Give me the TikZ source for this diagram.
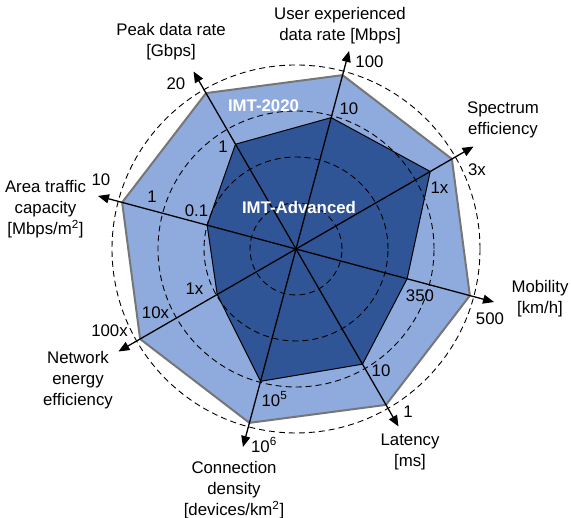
\documentclass[tikz,border=0pt]{standalone}
\usepackage{fontspec}
\setmainfont{Liberation Sans}
\usetikzlibrary{arrows.meta}
\definecolor{imtnew}{RGB}{143,170,220}
\definecolor{imtold}{RGB}{47,85,151}
\definecolor{rimgray}{RGB}{118,118,118}
\begin{document}
\begin{tikzpicture}[x=1pt,y=1pt,
  lbl/.style={font=\fontsize{16.8}{21}\selectfont, inner sep=0pt, align=center},
  tick/.style={font=\fontsize{16.8}{21}\selectfont, inner sep=0pt},
  series/.style={font=\fontsize{16.8}{21}\selectfont\bfseries, text=white, inner sep=0pt},
  axisline/.style={line width=1.3pt, -{Triangle[length=11pt,width=9pt]}},
  ring/.style={dash pattern=on 6pt off 4pt, line width=0.9pt},
]
\useasboundingbox (0,0) rectangle (571,518);
\coordinate (O) at (296,269);

% axis ends and IMT-2020 / IMT-Advanced vertices: name/angle/IMT-Advanced radius
\foreach \n/\a/\r in {ue/75/136, se/30/155, mo/-15/115, la/-60/133,
                      cd/-105/137, ne/-150/91, at/165/92, pk/120/121} {
  \coordinate (\n-end) at ([shift={(\a:205)}]O);
  \coordinate (\n-new) at ([shift={(\a:180)}]O);
  \coordinate (\n-old) at ([shift={(\a:\r)}]O);
}

% IMT-2020 area
\draw[fill=imtnew, draw=rimgray, line width=2pt, line join=round]
  (ue-new) -- (se-new) -- (mo-new) -- (la-new) -- (cd-new) -- (ne-new) -- (at-new) -- (pk-new) -- cycle;
% IMT-Advanced area
\draw[fill=imtold, draw=black, line width=1pt, line join=round]
  (ue-old) -- (se-old) -- (mo-old) -- (la-old) -- (cd-old) -- (ne-old) -- (at-old) -- (pk-old) -- cycle;

% dashed reference rings
\foreach \r in {46,92,138,184} \draw[ring] (O) circle[radius=\r];

% axes
\foreach \n in {ue,se,mo,la,cd,ne,at,pk} \draw[axisline] (O) -- (\n-end);

% series names
\node[series] (s2020) at (263.5,412) {IMT-2020};
\node[series] (sadv) at (299,310) {IMT-Advanced};

% axis titles
\node[lbl] (tpk) at (171,476) {Peak data rate\\{[Gbps]}};
\node[lbl] (tue) at (340,492) {User experienced\\data rate [Mbps]};
\node[lbl] (tse) at (503,398) {Spectrum\\efficiency};
\node[lbl] (tmo) at (540,219) {Mobility\\{[km/h]}};
\node[lbl] (tla) at (410,66) {Latency\\{[ms]}};
\node[lbl] (tcd) at (234,28) {Connection\\density\\{[devices/km\textsuperscript{2}]}};
\node[lbl] (tne) at (78,138) {Network\\energy\\efficiency};
\node[lbl] (tat) at (45.5,309) {Area traffic\\capacity\\{[Mbps/m\textsuperscript{2}]}};

% tick values
\node[tick] (vue1) at (369.5,456) {100};
\node[tick] (vue2) at (349,409) {10};
\node[tick] (vpk1) at (176,434) {20};
\node[tick] (vpk2) at (223,371) {1};
\node[tick] (vse1) at (477,348.5) {3x};
\node[tick] (vse2) at (439.5,330) {1x};
\node[tick] (vmo1) at (490,199.5) {500};
\node[tick] (vmo2) at (420,222) {350};
\node[tick] (vla1) at (408,106) {1};
\node[tick] (vla2) at (381,147) {10};
\node[tick] (vcd1) at (264,73) {10\textsuperscript{6}};
\node[tick] (vcd2) at (274.5,119) {10\textsuperscript{5}};
\node[tick] (vne1) at (109.5,187) {100x};
\node[tick] (vne2) at (155.5,205.5) {10x};
\node[tick] (vne3) at (194.5,229) {1x};
\node[tick] (vat1) at (101,338) {10};
\node[tick] (vat2) at (152,321) {1};
\node[tick] (vat3) at (196.5,307) {0.1};
\end{tikzpicture}
\end{document}
